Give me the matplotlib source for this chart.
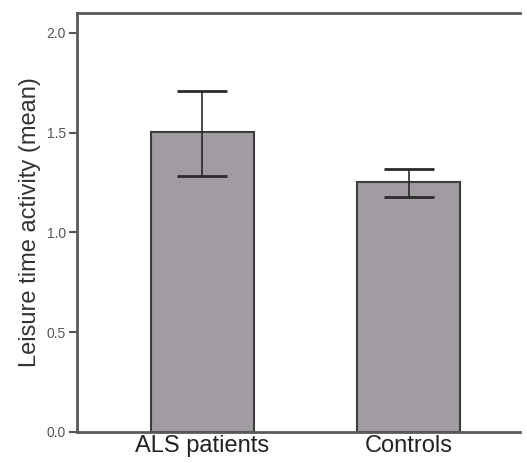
import numpy as np
import matplotlib
matplotlib.use("Agg")
import matplotlib.pyplot as plt

groups = ["ALS patients", "Controls"]
means = [1.505, 1.253]
err_low = [1.285, 1.178]
err_high = [1.71, 1.318]
y_ticks = [0.0, 0.5, 1.0, 1.5, 2.0]

plt.rcParams['font.family'] = ['Liberation Sans', 'DejaVu Sans']

fig = plt.figure(figsize=(5.27, 4.63), dpi=100)
ax = fig.add_axes([0.1461, 0.067, 0.8406, 0.905])

x = np.arange(len(groups))
ax.bar(x, means, width=0.5, color='#a19ca1', edgecolor='#3c3c3c', linewidth=1.5, zorder=2)

m = np.array(means)
yerr = np.vstack([m - np.array(err_low), np.array(err_high) - m])
ax.errorbar(x, means, yerr=yerr, fmt='none', ecolor='#2a2a2a', elinewidth=1.2,
            capsize=18, capthick=2, zorder=3)

ax.set_xlim(-0.609, 1.541)
ax.set_ylim(0, 2.1)
ax.set_yticks(y_ticks)
ax.set_yticklabels([f"{v:.1f}" for v in y_ticks], fontsize=10, color='#555555')
ax.set_xticks(x)
ax.set_xticklabels(groups, fontsize=17, color='#222222')
ax.tick_params(axis='x', length=0, pad=2)
ax.tick_params(axis='y', length=6, width=1.5, color='#555555', direction='out', pad=2)
ax.set_ylabel("Leisure time activity (mean)", fontsize=17, color='#333333', labelpad=4)

for side in ['left', 'top', 'bottom']:
    ax.spines[side].set_color('#5a5a5a')
    ax.spines[side].set_linewidth(2)
ax.spines['right'].set_visible(False)

fig.savefig("out.png", dpi=100)
